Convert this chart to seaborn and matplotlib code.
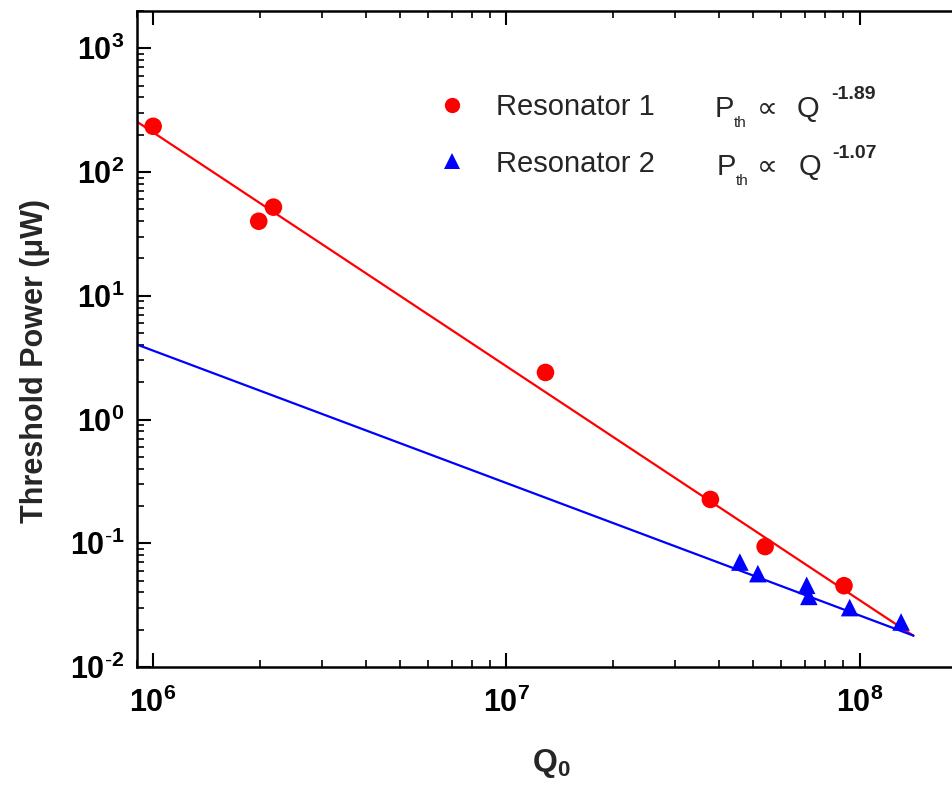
import numpy as np
import pandas as pd
import matplotlib
matplotlib.use("Agg")
import matplotlib.pyplot as plt
from matplotlib.ticker import LogLocator, FuncFormatter, NullFormatter
import seaborn as sns

# Measured threshold power (uW) versus intrinsic quality factor Q0
q_res1 = [1.0e6, 1.99e6, 2.19e6, 1.29e7, 3.78e7, 5.4e7, 9.03e7]
p_res1 = [234, 40, 52, 2.4, 0.226, 0.094, 0.0454]
q_res2 = [4.58e7, 5.15e7, 7.08e7, 7.18e7, 9.37e7, 1.31e8]
p_res2 = [0.0705, 0.0568, 0.0457, 0.0372, 0.0302, 0.0231]

series_names = ["Resonator 1", "Resonator 2"]
series_colors = ["#FF0000", "#0000FF"]
series_markers = ["o", "^"]

# Power-law fits  P_th = 10**log_amp * Q**exponent
fit_exponents = [-1.89, -1.07]
fit_exp_labels = ["-1.89", "-1.07"]
fit_log_amp = [13.66, 6.9765]
fit_q_span = [8.0e5, 1.42e8]

x_limits = [9.0e5, 2.0e8]
y_limits = [1.0e-2, 2.0e3]

sns.set_theme(style="ticks")
plt.rcParams["font.family"] = ["Liberation Sans", "DejaVu Sans"]
plt.rcParams["mathtext.fontset"] = "custom"
plt.rcParams["mathtext.rm"] = "Liberation Sans"
plt.rcParams["mathtext.it"] = "Liberation Sans:italic"
plt.rcParams["mathtext.bf"] = "Liberation Sans:bold"

meas = pd.DataFrame({
    "Q": q_res1 + q_res2,
    "P": p_res1 + p_res2,
    "Resonator": [series_names[0]] * len(q_res1) + [series_names[1]] * len(q_res2),
})

fit_rows = []
for name, k, la in zip(series_names, fit_exponents, fit_log_amp):
    for q in fit_q_span:
        fit_rows.append({"Q": q, "P": 10 ** (la + k * np.log10(q)), "Resonator": name})
fits = pd.DataFrame(fit_rows)

palette = dict(zip(series_names, series_colors))
markers = dict(zip(series_names, series_markers))

W, H = 953, 788
fig = plt.figure(figsize=(W / 100, H / 100), dpi=100)
ax = fig.add_axes([137 / W, 1 - 667 / H, (966 - 137) / W, (667 - 11) / H])
ax.set_xscale("log")
ax.set_yscale("log")

sns.lineplot(data=fits, x="Q", y="P", hue="Resonator", palette=palette,
             linewidth=1.6, legend=False, sort=False, estimator=None, ax=ax)
sns.scatterplot(data=meas, x="Q", y="P", hue="Resonator", style="Resonator",
                palette=palette, markers=markers, s=160, linewidth=0,
                ax=ax, zorder=3)

ax.set_xlim(*x_limits)
ax.set_ylim(*y_limits)

# Axes frame and ticks
for sp in ax.spines.values():
    sp.set_linewidth(1.8)
    sp.set_color("black")
    sp.set_visible(True)

def decade_label(v, pos):
    e = int(round(np.log10(v)))
    if e < 0:
        return r"$\mathbf{10^{\text{-}%d}}$" % (-e)
    return r"$\mathbf{10^{%d}}$" % e

for axis in (ax.xaxis, ax.yaxis):
    axis.set_major_locator(LogLocator(base=10, numticks=20))
    axis.set_minor_locator(LogLocator(base=10, subs=np.arange(2, 10), numticks=50))
    axis.set_major_formatter(FuncFormatter(decade_label))
    axis.set_minor_formatter(NullFormatter())

ax.tick_params(which="both", direction="in", top=True, right=True, colors="black")
ax.tick_params(which="major", length=10, width=1.5, labelsize=22)
ax.tick_params(which="minor", length=5, width=1.2)
ax.tick_params(axis="x", which="major", pad=15)
ax.tick_params(axis="y", which="major", pad=9)

ax.set_xlabel(r"$\mathbf{Q_0}$", fontsize=23, labelpad=20)
ax.set_ylabel("Threshold Power (\u03bcW)", fontsize=22, fontweight="bold",
              labelpad=14, y=0.466)

# Legend with the series names
old = ax.get_legend()
handles = list(old.legend_handles)
labels = [t.get_text() for t in old.get_texts()]
old.remove()
for h in handles:
    h.set_markersize(11)
leg = ax.legend(handles, labels, loc="upper left",
                bbox_to_anchor=(437 / W, 1 - 93 / H), bbox_transform=fig.transFigure,
                frameon=False, prop={"family": "Liberation Sans", "size": 21},
                handlelength=1.0, handletextpad=1.04, labelspacing=0.98,
                borderpad=0, borderaxespad=0)

# Fit-law annotations beside each legend entry
def fig_xy(px, py):
    return px / W, 1 - py / H

rows = [(117, 127, 99), (175, 185, 158)]
for (base, sub_base, sup_base), exp_txt, dx in zip(rows, fit_exp_labels, [0, 1.5]):
    fig.text(*fig_xy(715 + dx, base), "P", fontsize=21, va="baseline", ha="left")
    fig.text(*fig_xy(734 + dx, sub_base), "th", fontsize=11, va="baseline", ha="left")
    fig.text(*fig_xy(757, base - 1), "\u221d", fontsize=21, va="baseline", ha="left",
             family=["DejaVu Sans"])
    fig.text(*fig_xy(797 + dx, base), "Q", fontsize=21, va="baseline", ha="left")
    fig.text(*fig_xy(831 + dx, sup_base), exp_txt, fontsize=14, fontweight="bold",
             va="baseline", ha="left")

fig.savefig("out.png", dpi=100, facecolor="white")
